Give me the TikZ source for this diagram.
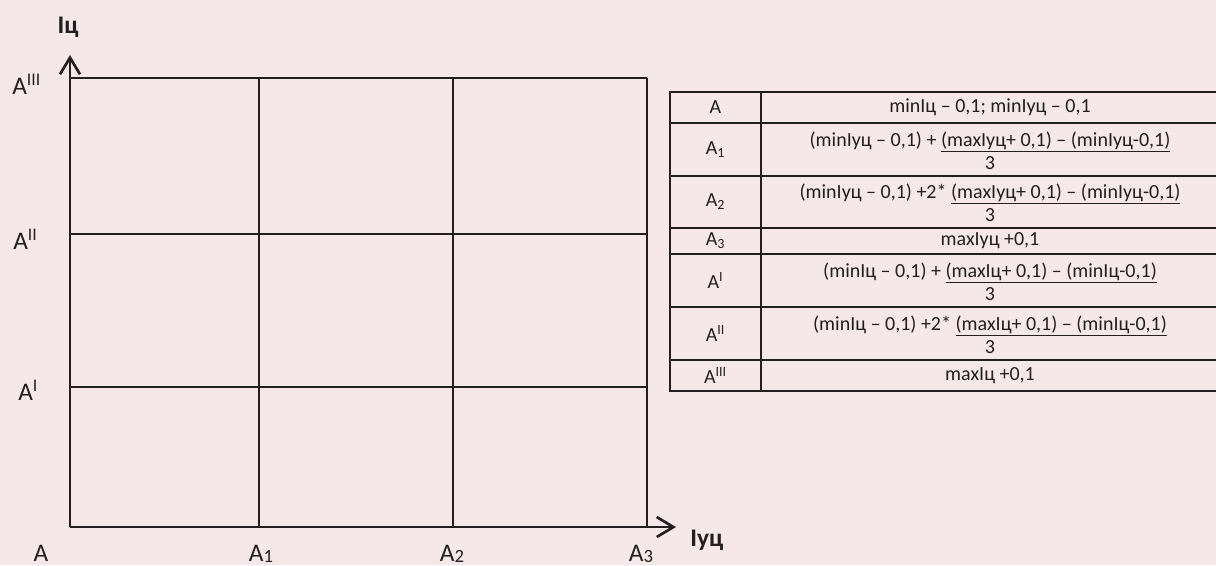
\documentclass[tikz,border=0pt]{standalone}
\usepackage{fontspec}
\setmainfont{Carlito}
\usetikzlibrary{arrows.meta}
\definecolor{bg}{HTML}{F6E8E8}
\definecolor{ink}{HTML}{231F20}
% small index digit set slightly below the baseline
\newcommand{\idx}[1]{\raisebox{-1.2pt}{\fontsize{14}{14}\selectfont #1}}

\begin{document}
\begin{tikzpicture}[x=0.75pt,y=-0.75pt,
  axis/.style={draw=ink,line width=2.2pt,-{Straight Barb[length=12.5pt,width=15pt,line width=2pt]}},
  gridline/.style={draw=ink,line width=1.5pt},
  tabline/.style={draw=ink,line width=1.5pt},
  lab/.style={text=ink,font=\fontsize{19}{22}\selectfont,inner sep=0pt},
  axlab/.style={text=ink,font=\fontsize{19}{22}\selectfont\bfseries,inner sep=0pt},
  cell/.style={text=ink,font=\fontsize{15}{17.5}\selectfont,align=center,inner sep=0pt}]

% page and background
\fill[bg] (0,0) rectangle (1216,565);
\useasboundingbox (0,0) rectangle (1216,565);

% axes
\coordinate (O) at (70,527);
\coordinate (ytip) at (70,55);
\coordinate (xtip) at (676,527);

% grid of the coordinate field
\foreach \x in {259,453,647} \draw[gridline] (\x,78) -- (\x,527);
\foreach \y in {78,234,387} \draw[gridline] (70,\y) -- (647,\y);

\draw[axis] (O) -- (ytip);
\draw[axis] (O) -- (xtip);

\node[axlab,anchor=base] (ylab) at (68,33) {Iц};
\node[axlab,anchor=base west] (xlab) at (690,546) {Iуц};

% scale marks on the horizontal axis
\node[lab,anchor=base] (a0) at (41,561) {A};
\node[lab,anchor=base] (a1) at (261,561) {A\idx{1}};
\node[lab,anchor=base] (a2) at (452,561) {A\idx{2}};
\node[lab,anchor=base] (a3) at (641,561) {A\idx{3}};

% scale marks on the vertical axis
\node[lab,anchor=base west] (b3) at (12,94) {A\textsuperscript{III}};
\node[lab,anchor=base west] (b2) at (13,249) {A\textsuperscript{II}};
\node[lab,anchor=base west] (b1) at (18,400) {A\textsuperscript{I}};

% table of boundary values
\draw[tabline] (670,92) rectangle (1222,391);
\draw[tabline] (761,92) -- (761,391);
\foreach \y in {123,176,228,254,307,360} \draw[tabline] (670,\y) -- (1222,\y);

\node[cell] (k1) at (715.5,107.5) {A};
\node[cell] (v1) at (990,107.5) {minIц – 0,1; minIуц – 0,1};

\node[cell] (k2) at (715.5,150) {A\textsubscript{1}};
\node[cell] (v2) at (990,151) {(minIуц – 0,1) + \underline{(maxIуц+ 0,1) – (minIуц-0,1)}\\3};

\node[cell] (k3) at (715.5,202) {A\textsubscript{2}};
\node[cell] (v3) at (990,203) {(minIуц – 0,1) +2* \underline{(maxIуц+ 0,1) – (minIуц-0,1)}\\3};

\node[cell] (k4) at (715.5,241) {A\textsubscript{3}};
\node[cell] (v4) at (990,241) {maxIуц +0,1};

\node[cell] (k5) at (715.5,280.5) {A\textsuperscript{I}};
\node[cell] (v5) at (990,281.5) {(minIц – 0,1) + \underline{(maxIц+ 0,1) – (minIц-0,1)}\\3};

\node[cell] (k6) at (715.5,333.5) {A\textsuperscript{II}};
\node[cell] (v6) at (990,334.5) {(minIц – 0,1) +2* \underline{(maxIц+ 0,1) – (minIц-0,1)}\\3};

\node[cell] (k7) at (715.5,375.5) {A\textsuperscript{III}};
\node[cell] (v7) at (990,375.5) {maxIц +0,1};
\end{tikzpicture}
\end{document}
